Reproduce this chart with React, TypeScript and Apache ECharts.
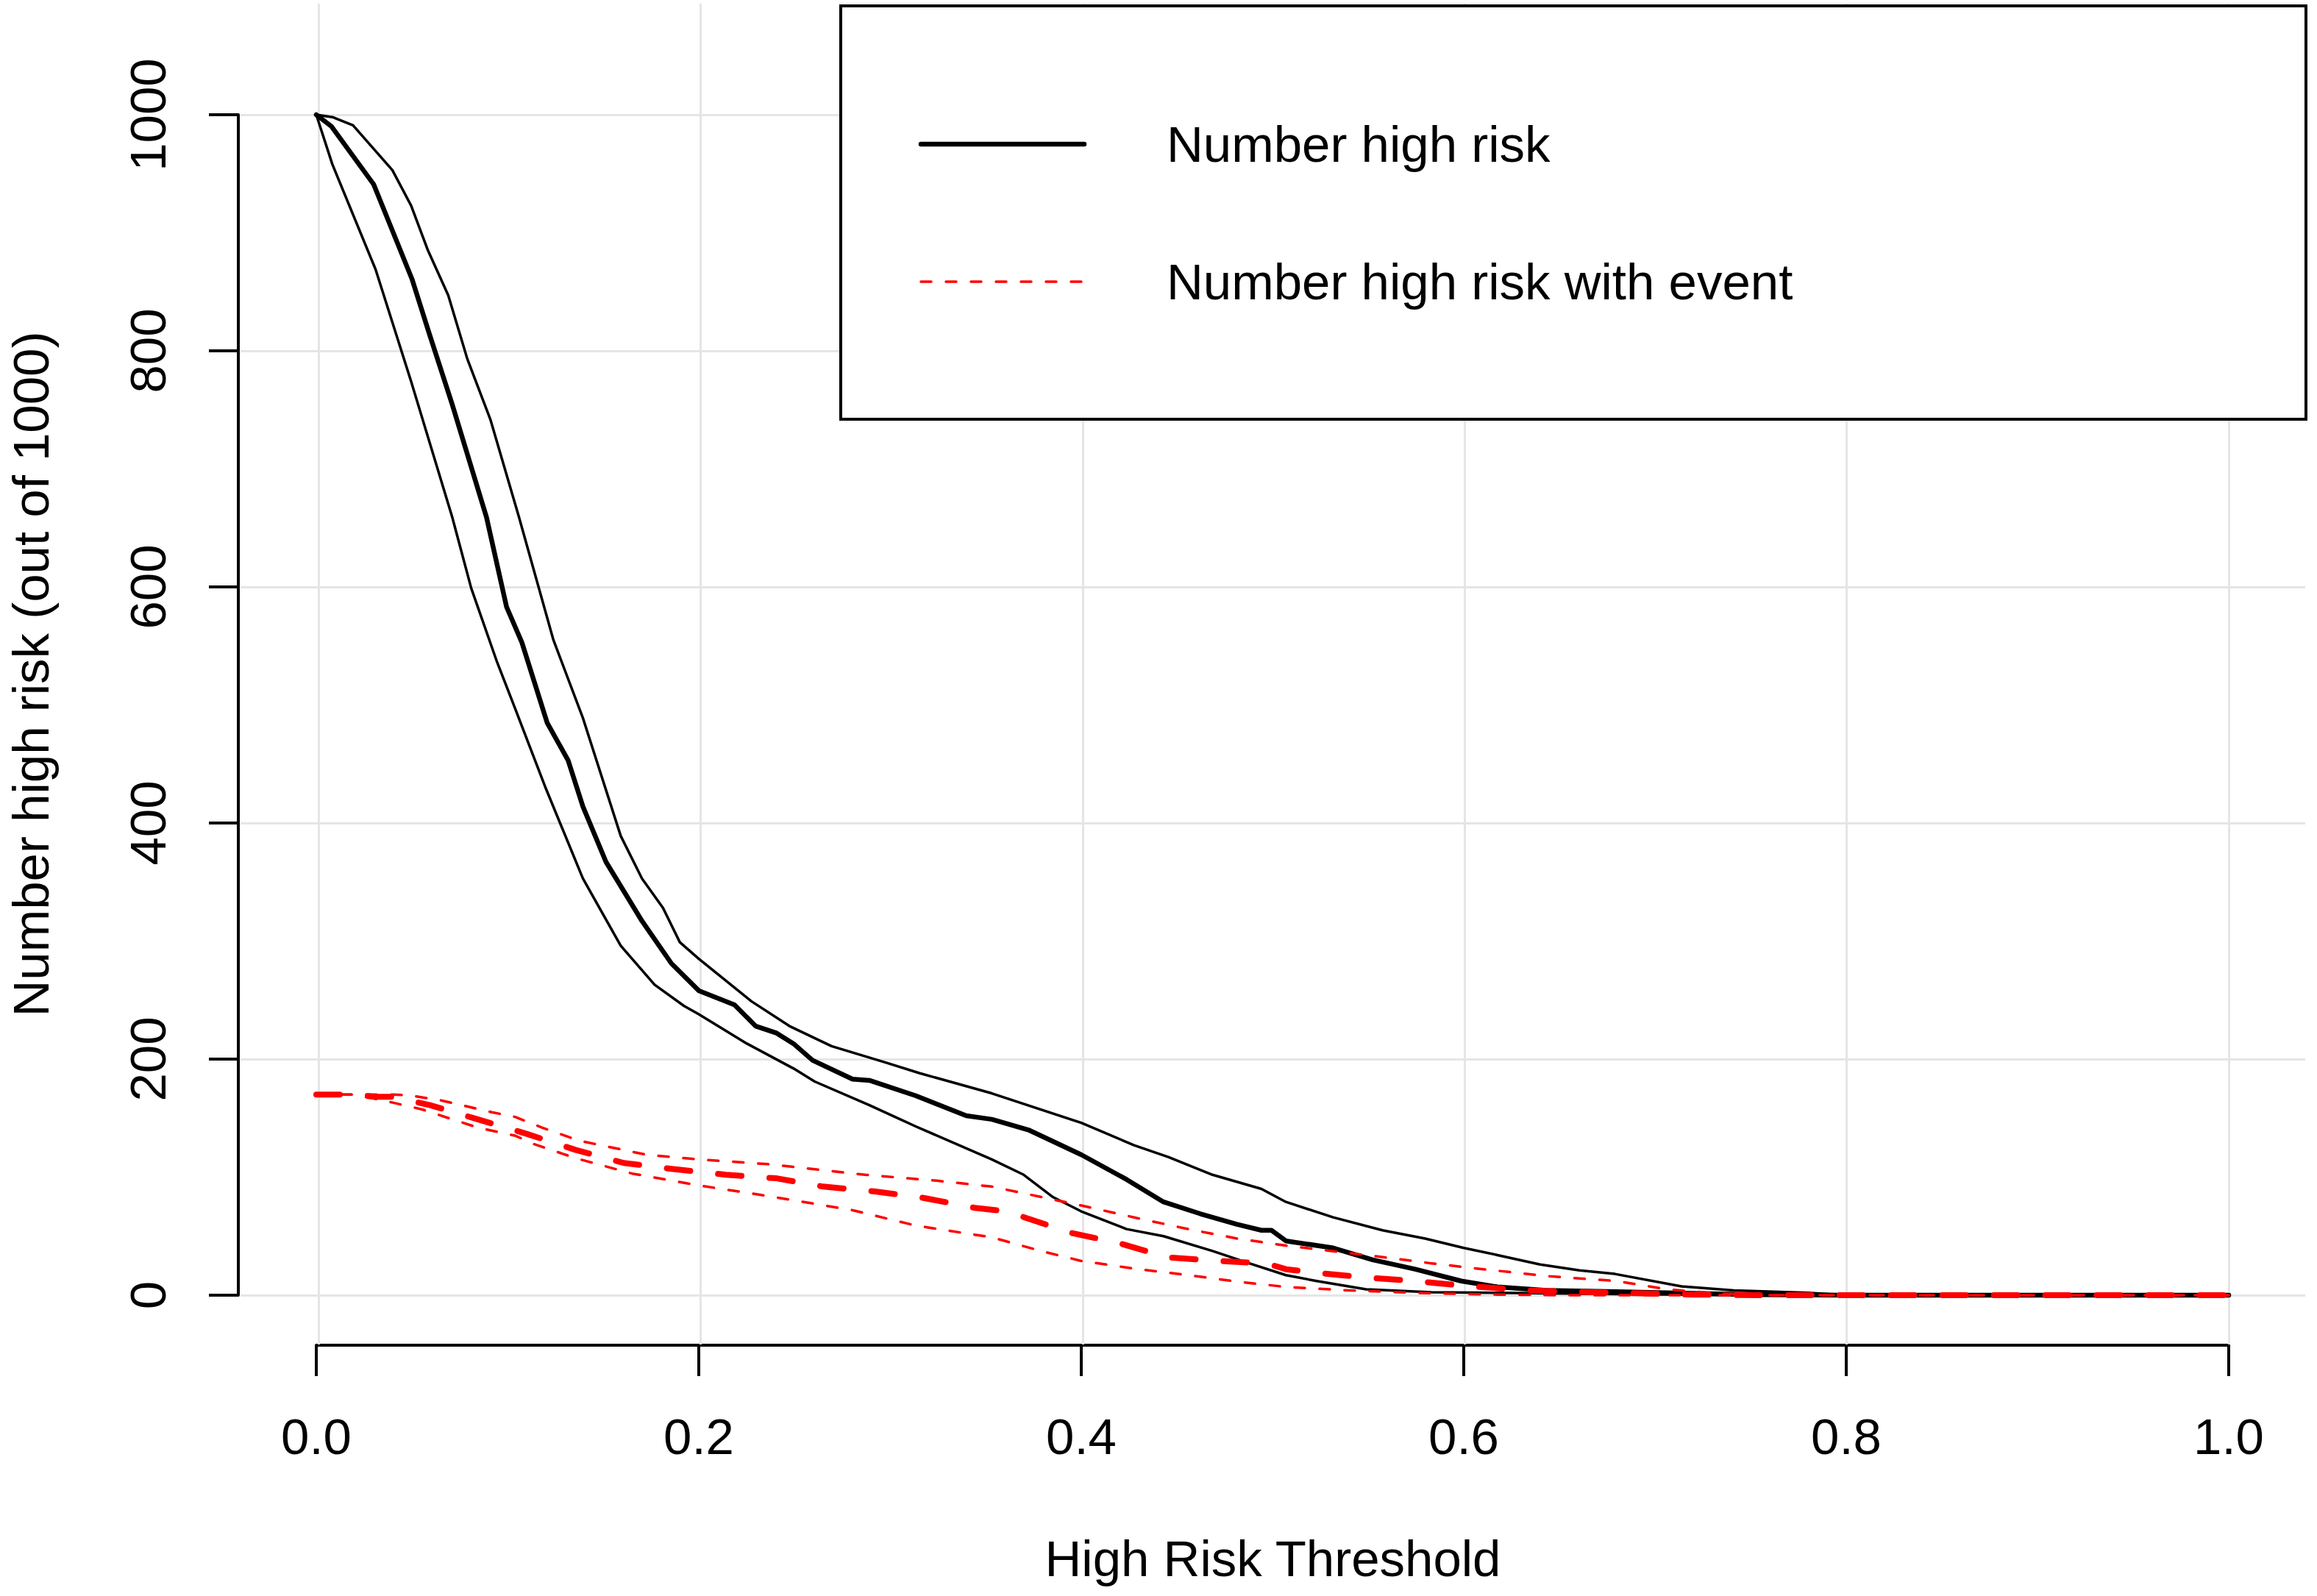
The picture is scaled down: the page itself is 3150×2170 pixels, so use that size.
import React, { useEffect, useRef } from "react";
import * as echarts from "echarts";

// ---- data ----
const xTicks = [0, 0.2, 0.4, 0.6, 0.8, 1.0];
const yTicks = [0, 200, 400, 600, 800, 1000];

const highRiskX = [0, 0.008, 0.03, 0.05, 0.059, 0.071, 0.089, 0.0995, 0.1075, 0.1207, 0.1317, 0.1394, 0.1515, 0.1703, 0.1857, 0.2, 0.2187, 0.2297, 0.2407, 0.2496, 0.2595, 0.2804, 0.2892, 0.3134, 0.3399, 0.3532, 0.3724, 0.4, 0.4237, 0.443, 0.4622, 0.4814, 0.4942, 0.4994, 0.507, 0.5317, 0.5523, 0.5746, 0.5987, 0.6176, 0.6433, 0.68, 0.72, 0.75, 0.8, 1.0];
const highRiskY = [1000, 990, 941, 861, 815, 755, 659, 583, 553, 485, 453, 414, 367, 317, 281, 258, 246, 228, 222, 213, 199, 183, 182, 169, 152, 149, 140, 119, 98, 79, 69, 60, 55, 55, 46, 40, 30, 22, 12, 7, 4, 3, 1.5, 0.5, 0, 0];

const highRiskUpX = [0, 0.0084, 0.0192, 0.0398, 0.0496, 0.0584, 0.069, 0.079, 0.091, 0.106, 0.124, 0.1394, 0.1592, 0.1703, 0.1813, 0.1901, 0.2, 0.2275, 0.2474, 0.2694, 0.298, 0.3156, 0.3532, 0.4, 0.4276, 0.4455, 0.4686, 0.4942, 0.507, 0.5317, 0.5575, 0.5798, 0.6, 0.6176, 0.6399, 0.6605, 0.679, 0.7138, 0.7412, 0.78, 0.8, 1.0];
const highRiskUpY = [1000, 998, 991, 953, 923, 885, 847, 793, 742, 659, 555, 489, 389, 353, 328, 299, 285, 249, 228, 211, 197, 188, 171, 146, 127, 117, 102, 90, 79, 66, 55, 48, 40, 34, 26, 21, 18, 7.5, 4, 2, 0, 0];

const highRiskLoX = [0, 0.0084, 0.031, 0.0496, 0.0711, 0.081, 0.0946, 0.1042, 0.1196, 0.1394, 0.1592, 0.1769, 0.1923, 0.2, 0.2253, 0.2496, 0.2606, 0.2892, 0.3134, 0.3532, 0.3699, 0.3853, 0.4, 0.4237, 0.443, 0.4686, 0.4878, 0.507, 0.5231, 0.5489, 0.583, 0.6176, 0.68, 0.75, 1.0];
const highRiskLoY = [1000, 958, 869, 774, 659, 599, 536, 496, 431, 353, 296, 263, 245, 238, 213, 192, 181, 161, 143, 115, 102, 83, 71, 56, 50, 37.5, 27, 17, 12, 5, 2.5, 2, 1, 0, 0];

const eventX = [0, 0.0184, 0.0316, 0.0404, 0.0595, 0.0844, 0.1094, 0.1358, 0.1608, 0.1858, 0.2143, 0.2407, 0.265, 0.2914, 0.3156, 0.3443, 0.3609, 0.3942, 0.4199, 0.4455, 0.4712, 0.4968, 0.507, 0.523, 0.5489, 0.5746, 0.6, 0.634, 0.68, 0.72, 0.76, 1.0];
const eventY = [170, 170, 168, 168, 161, 149, 137, 123, 112, 107, 102, 99, 92, 88, 83, 74, 71, 53, 44, 32, 29, 27, 22, 19, 15, 12, 8, 4, 2, 0.5, 0, 0];

const eventUpX = [0, 0.03, 0.0404, 0.05, 0.0653, 0.0918, 0.104, 0.118, 0.1372, 0.1725, 0.2, 0.2363, 0.287, 0.3245, 0.3532, 0.4, 0.4301, 0.4558, 0.4814, 0.507, 0.5489, 0.583, 0.61, 0.645, 0.68, 0.706, 0.732, 0.76, 1.0];
const eventUpY = [170, 170, 170, 169, 165, 155, 151, 142, 131, 119, 115, 111, 102, 97, 92, 76, 65, 56, 48, 42, 34, 27, 22, 16, 12, 5, 1.5, 0, 0];

const eventLoX = [0, 0.02, 0.0404, 0.055, 0.0844, 0.1042, 0.1138, 0.1358, 0.1652, 0.2, 0.2363, 0.2804, 0.3134, 0.3532, 0.3788, 0.4, 0.4301, 0.4558, 0.4814, 0.507, 0.5403, 0.5746, 0.6176, 0.65, 1.0];
const eventLoY = [170, 170, 163, 157.5, 142, 135, 128, 116, 103, 93, 84, 72, 59, 49, 37.5, 29, 22, 17, 11.5, 7, 4, 2, 0.5, 0, 0];

const legendNames = ["Number high risk", "Number high risk with event"];
const xTitle = "High Risk Threshold";
const yTitle = "Number high risk (out of 1000)";

// ---- layout (pixels) ----
const W = 3150;
const H = 2170;
const X0 = 430; // x = 0
const X1 = 3030; // x = 1
const Y0 = 1761; // y = 0
const Y1 = 156; // y = 1000
const PL = 324; // plot region
const PR = 3134;
const PT = 5;
const PB = 1828;
const FONT = "'Liberation Sans', Arial, Helvetica, sans-serif";
const FS = 69;

const pxPerX = (X1 - X0) / 1;
const pxPerY = (Y0 - Y1) / 1000;

function pairs(xs: number[], ys: number[]) {
  return xs.map((x, i) => [x, ys[i]]);
}

export default function App() {
  const ref = useRef<HTMLDivElement>(null);
  useEffect(() => {
    if (!ref.current) return;
    const chart = echarts.init(ref.current, undefined, { renderer: "svg" });

    const lineBase = {
      type: "line",
      xAxisIndex: 0,
      yAxisIndex: 0,
      showSymbol: false,
      symbol: "none",
      clip: false,
      smooth: false,
      silent: true,
      z: 5,
    };
    const black = (w: number) => ({ color: "#000", width: w, cap: "round", join: "round" });
    const red = (w: number, dash: number[]) => ({
      color: "#ff0000",
      width: w,
      type: dash,
      cap: "round",
      join: "round",
    });

    const option: any = {
      animation: false,
      backgroundColor: "#ffffff",
      textStyle: { fontFamily: FONT },
      grid: [
        { left: X0, right: W - X1, top: Y1, bottom: H - Y0 },
        { left: PL, right: W - PR, top: PT, bottom: H - PB },
      ],
      xAxis: [
        {
          type: "value",
          gridIndex: 0,
          min: 0,
          max: 1,
          interval: 0.2,
          offset: PB - Y0 + 1,
          axisLine: { show: true, onZero: false, lineStyle: { color: "#000", width: 4 } },
          axisTick: { show: true, length: 42, lineStyle: { color: "#000", width: 4 } },
          axisLabel: {
            show: true,
            margin: 90,
            color: "#000",
            fontSize: FS,
            fontFamily: FONT,
            formatter: (v: number) => v.toFixed(1),
          },
          splitLine: { show: false },
        },
        {
          type: "value",
          gridIndex: 1,
          min: -(X0 - PL) / pxPerX,
          max: 1 + (PR - X1) / pxPerX,
          axisLine: { show: false },
          axisTick: { show: false },
          axisLabel: { show: false },
          splitLine: { show: false },
          name: xTitle,
          nameLocation: "middle",
          nameGap: 257,
          nameTextStyle: { fontSize: FS, color: "#000", fontFamily: FONT },
        },
      ],
      yAxis: [
        {
          type: "value",
          gridIndex: 0,
          min: 0,
          max: 1000,
          interval: 200,
          offset: X0 - PL,
          axisLine: { show: true, onZero: false, lineStyle: { color: "#000", width: 4 } },
          axisTick: { show: true, length: 40, lineStyle: { color: "#000", width: 4 } },
          axisLabel: {
            show: true,
            rotate: 90,
            margin: 88,
            color: "#000",
            fontSize: FS,
            fontFamily: FONT,
            formatter: (v: number) => String(v),
          },
          splitLine: { show: false },
        },
        {
          type: "value",
          gridIndex: 1,
          min: -(PB - Y0) / pxPerY,
          max: 1000 + (Y1 - PT) / pxPerY,
          axisLine: { show: false },
          axisTick: { show: false },
          axisLabel: { show: false },
          splitLine: { show: false },
          name: yTitle,
          nameLocation: "middle",
          nameGap: 250,
          nameTextStyle: { fontSize: FS, color: "#000", fontFamily: FONT },
        },
      ],
      series: [
        {
          type: "line",
          name: "grid",
          xAxisIndex: 1,
          yAxisIndex: 1,
          data: [[0, 0]],
          showSymbol: false,
          symbol: "none",
          lineStyle: { opacity: 0 },
          silent: true,
          z: 1,
          markLine: {
            silent: true,
            symbol: ["none", "none"],
            label: { show: false },
            animation: false,
            lineStyle: { color: "#e5e5e5", width: 3, type: "solid" },
            data: [
              ...xTicks.map((v) => ({ xAxis: v })),
              ...yTicks.map((v) => ({ yAxis: v })),
            ],
          },
        },
        { ...lineBase, name: "Upper high risk", data: pairs(highRiskUpX, highRiskUpY), lineStyle: black(3.5) },
        { ...lineBase, name: "Lower high risk", data: pairs(highRiskLoX, highRiskLoY), lineStyle: black(3.5) },
        { ...lineBase, name: legendNames[0], data: pairs(highRiskX, highRiskY), lineStyle: black(6.5) },
        { ...lineBase, name: "Upper with event", data: pairs(eventUpX, eventUpY), lineStyle: red(3.5, [14, 20]), z: 6 },
        { ...lineBase, name: "Lower with event", data: pairs(eventLoX, eventLoY), lineStyle: red(3.5, [14, 20]), z: 6 },
        { ...lineBase, name: legendNames[1], data: pairs(eventX, eventY), lineStyle: red(8, [32, 38]), z: 7 },
      ],
      graphic: [
        {
          type: "rect",
          z: 100,
          shape: { x: 1143, y: 8, width: 1992, height: 562 },
          style: { fill: "#ffffff", stroke: "#000", lineWidth: 4 },
        },
        {
          type: "line",
          z: 101,
          shape: { x1: 1252, y1: 196, x2: 1474, y2: 196 },
          style: { stroke: "#000", lineWidth: 6.5, lineCap: "round" },
        },
        {
          type: "line",
          z: 101,
          shape: { x1: 1252, y1: 383, x2: 1474, y2: 383 },
          style: { stroke: "#ff0000", lineWidth: 3.5, lineDash: [14, 20], lineCap: "round" },
        },
        {
          type: "text",
          z: 101,
          x: 1586,
          y: 196,
          style: {
            text: legendNames[0],
            fontSize: FS,
            fontFamily: FONT,
            fill: "#000",
            verticalAlign: "middle",
            align: "left",
          },
        },
        {
          type: "text",
          z: 101,
          x: 1586,
          y: 383,
          style: {
            text: legendNames[1],
            fontSize: FS,
            fontFamily: FONT,
            fill: "#000",
            verticalAlign: "middle",
            align: "left",
          },
        },
      ],
    };

    chart.setOption(option);
    return () => chart.dispose();
  }, []);

  return (
    <div
      ref={ref}
      style={{ position: "fixed", left: 0, top: 0, width: W + "px", height: H + "px", background: "#fff" }}
    />
  );
}
